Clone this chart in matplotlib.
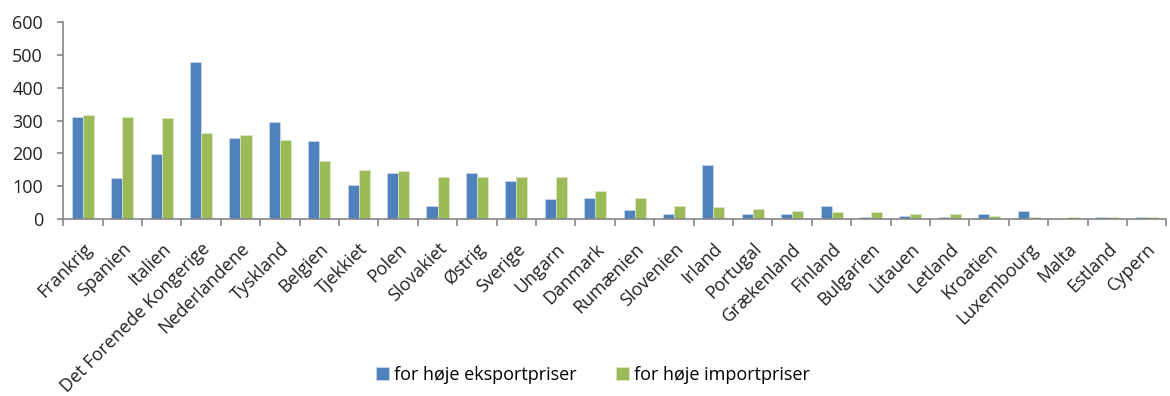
import numpy as np
import matplotlib.pyplot as plt

plt.rcParams['font.family'] = ['Open Sans', 'DejaVu Sans']

# Lande og værdier
lande = ['Frankrig', 'Spanien', 'Italien', 'Det Forenede Kongerige', 'Nederlandene',
         'Tyskland', 'Belgien', 'Tjekkiet', 'Polen', 'Slovakiet', 'Østrig', 'Sverige',
         'Ungarn', 'Danmark', 'Rumænien', 'Slovenien', 'Irland', 'Portugal',
         'Grækenland', 'Finland', 'Bulgarien', 'Litauen', 'Letland', 'Kroatien',
         'Luxembourg', 'Malta', 'Estland', 'Cypern']
eksport = [311, 125, 198, 479, 248, 297, 238, 105, 140, 41, 140, 115, 61, 65, 26,
           15, 164, 15, 15, 40, 6, 10, 5, 15, 25, 0, 5, 5]
import_ = [316, 311, 307, 262, 257, 242, 178, 148, 145, 129, 129, 129, 129, 85, 65,
           41, 36, 30, 25, 20, 20, 15, 15, 10, 5, 5, 5, 5]
yticks = [0, 100, 200, 300, 400, 500, 600]

blaa = '#4F81BD'
groen = '#9BBB59'
graa = '#868686'

fig = plt.figure(figsize=(11.7, 3.96), dpi=100)
ax = fig.add_axes([0.054, 0.447, 0.943, 0.497])

x = np.arange(len(lande))
w = 0.28
ax.bar(x - w / 2, eksport, w, color=blaa, edgecolor='#d6e0ee', linewidth=0.4,
       label='for høje eksportpriser')
ax.bar(x + w / 2, import_, w, color=groen, edgecolor='#e3ecd2', linewidth=0.4,
       label='for høje importpriser')

ax.set_xlim(-0.5, len(lande) - 0.5)
ax.set_ylim(0, 600)
ax.set_yticks(yticks)
ax.tick_params(axis='y', labelsize=13, colors=graa, labelcolor='#222222',
               length=4.5, width=1.2, pad=10)

ax.set_xticks(x)
ax.set_xticklabels(lande, rotation=45, ha='right', rotation_mode='anchor',
                   fontsize=13, color='#222222')
ax.set_xticks(np.arange(len(lande) + 1) - 0.5, minor=True)
ax.tick_params(axis='x', which='major', length=0, pad=15)
ax.tick_params(axis='x', which='minor', length=5, color=graa, width=1.2)

for s in ['top', 'right']:
    ax.spines[s].set_visible(False)
for s in ['left', 'bottom']:
    ax.spines[s].set_color(graa)
    ax.spines[s].set_linewidth(1.2)

fig.legend(loc='center', bbox_to_anchor=(0.507, 0.053), ncol=2, frameon=False,
           fontsize=13, handlelength=0.7, handleheight=0.7, columnspacing=2.2,
           handletextpad=0.3)

fig.savefig('out.png', dpi=100)
